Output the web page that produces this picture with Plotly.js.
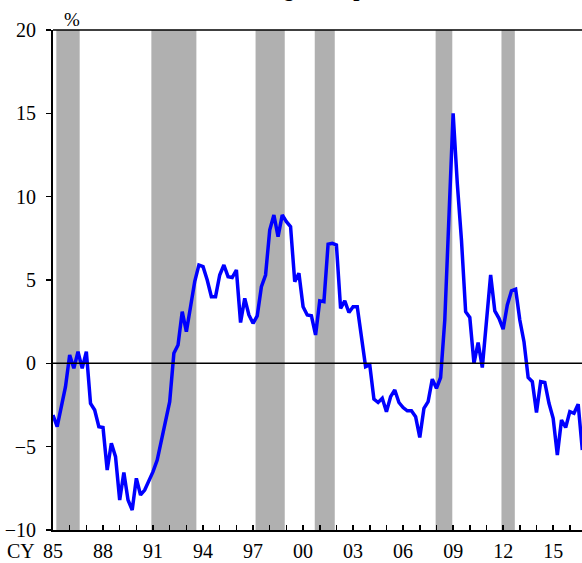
<!DOCTYPE html>
<html>
<head>
<meta charset="utf-8">
<script src="https://cdn.plot.ly/plotly-3.0.1.min.js"></script>
<style>
  body { margin: 0; padding: 0; background: #fff; }
  #graph1 { width: 582px; height: 563px; }
</style>
</head>
<body>
<div id="graph1"></div>
<script>
// quarterly series, first quarter of 1985 onwards (%)
let START_YEAR = 1985
let GROWTH = [
  -3.1, -3.8, -2.6, -1.4, 0.5, -0.3, 0.7, -0.3,
  0.7, -2.4, -2.8, -3.8, -3.85, -6.4, -4.8, -5.6,
  -8.2, -6.55, -8.2, -8.8, -6.9, -7.9, -7.6, -7.1,
  -6.5, -5.8, -4.6, -3.3, -2.3, 0.6, 1.1, 3.1,
  1.9, 3.4, 4.9, 5.9, 5.8, 5.0, 4.0, 4.0,
  5.3, 5.9, 5.2, 5.15, 5.6, 2.45, 3.9, 2.9,
  2.4, 2.85, 4.6, 5.3, 8.0, 8.9, 7.6, 8.9,
  8.5, 8.2, 4.9, 5.4, 3.4, 2.9, 2.85, 1.7,
  3.75, 3.7, 7.15, 7.2, 7.1, 3.3, 3.75, 3.05,
  3.4, 3.4, 1.6, -0.2, -0.1, -2.15, -2.35, -2.1,
  -2.9, -2.0, -1.6, -2.35, -2.65, -2.85, -2.85, -3.2,
  -4.45, -2.7, -2.3, -0.95, -1.5, -0.85, 2.6, 8.8,
  15.0, 10.8, 7.4, 3.1, 2.75, 0.0, 1.25, -0.25,
  2.4, 5.3, 3.15, 2.7, 2.05, 3.5, 4.35, 4.45,
  2.6, 1.3, -0.85, -1.1, -2.95, -1.1, -1.15, -2.4,
  -3.3, -5.5, -3.4, -3.85, -2.9, -3.0, -2.45, -5.2
]
// shaded periods [start, end] in years
let BAND_START = [1985.2, 1990.9, 1997.15, 2000.7, 2007.95, 2011.9]
let BAND_END = [1986.6, 1993.6, 1998.9, 2001.9, 2008.95, 2012.7]
let TICK_VALS = [1985, 1988, 1991, 1994, 1997, 2000, 2003, 2006, 2009, 2012, 2015]
let TICK_TEXT = ["85", "88", "91", "94", "97", "00", "03", "06", "09", "12", "15"]

let FONT = "Liberation Serif, Times New Roman, serif"

function show_chart() {
  let x = []
  for (let i = 0; i < GROWTH.length; i++) {
    x.push(START_YEAR + i / 4)
  }

  let shapes = []
  for (let i = 0; i < BAND_START.length; i++) {
    shapes.push({
      type: "rect", xref: "x", yref: "paper",
      x0: BAND_START[i], x1: BAND_END[i], y0: 0, y1: 1,
      fillcolor: "#b0b0b0", line: { width: 0 }, layer: "below"
    })
  }
  // zero line
  shapes.push({
    type: "line", xref: "paper", yref: "y",
    x0: 0, x1: 1, y0: 0, y1: 0,
    line: { color: "#000", width: 1.5 }
  })
  // top border
  shapes.push({
    type: "line", xref: "paper", yref: "paper",
    x0: 0, x1: 1, y0: 1, y1: 1,
    line: { color: "#000", width: 1.5 }
  })

  let data = [{
    x: x,
    y: GROWTH,
    type: "scatter",
    mode: "lines",
    line: { color: "#0000ff", width: 3.5 },
    hoverinfo: "skip"
  }]

  let layout = {
    width: 582,
    height: 563,
    margin: { l: 53, r: 0, t: 30, b: 33 },
    paper_bgcolor: "#fff",
    plot_bgcolor: "#fff",
    showlegend: false,
    font: { family: FONT, size: 20, color: "#000" },
    xaxis: {
      range: [1985, 2016.73],
      tickvals: TICK_VALS,
      ticktext: TICK_TEXT,
      ticks: "inside",
      ticklen: 5,
      tickwidth: 1.5,
      tickcolor: "#000",
      ticklabelstandoff: 2,
      minor: { dtick: 1, tick0: 1985, ticks: "inside", ticklen: 5, tickwidth: 1.5, tickcolor: "#000", showgrid: false },
      showgrid: false,
      zeroline: false,
      showline: true,
      linecolor: "#000",
      linewidth: 2,
      tickfont: { family: FONT, size: 20, color: "#000" }
    },
    yaxis: {
      range: [-10, 20],
      dtick: 5,
      ticks: "outside",
      ticklen: 5,
      tickwidth: 1.5,
      tickcolor: "#000",
      ticklabelstandoff: 6,
      showgrid: false,
      zeroline: false,
      showline: true,
      linecolor: "#000",
      linewidth: 2,
      tickfont: { family: FONT, size: 20, color: "#000" }
    },
    shapes: shapes,
    annotations: [
      {
        text: "%", xref: "paper", yref: "paper", x: 0.036, y: 1,
        xanchor: "center", yanchor: "bottom", yshift: -2, showarrow: false,
        font: { family: FONT, size: 19, color: "#000" }
      },
      {
        text: "CY", xref: "paper", yref: "paper", x: -0.061, y: 0,
        xanchor: "center", yanchor: "top", yshift: -8, showarrow: false,
        font: { family: FONT, size: 20, color: "#000" }
      },
      {
        text: "<b><i>Real credit growth per annum</i></b>", xref: "paper", yref: "paper",
        x: 0.238, y: 1, xanchor: "left", yanchor: "bottom", yshift: 27, showarrow: false,
        font: { family: FONT, size: 22, color: "#000" }
      }
    ]
  }

  Plotly.newPlot("graph1", data, layout, { staticPlot: true })
}

show_chart()
</script>
</body>
</html>
